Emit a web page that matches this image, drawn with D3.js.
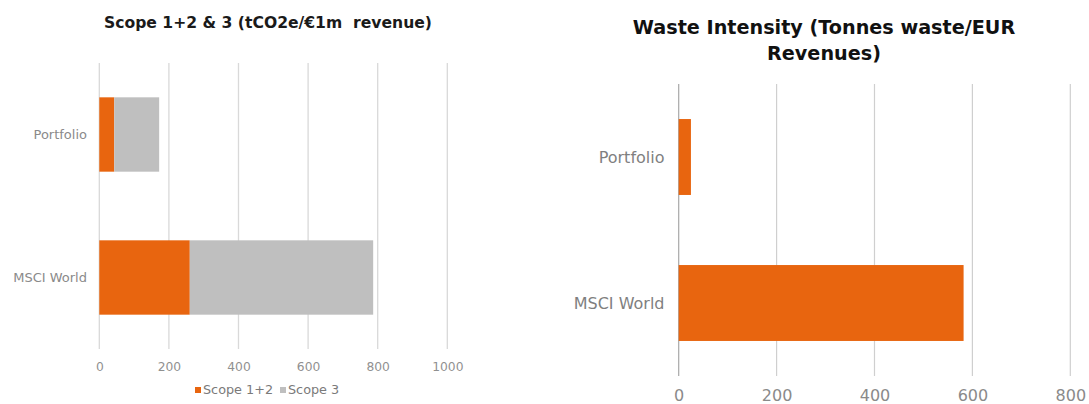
<!DOCTYPE html>
<html><head><meta charset="utf-8">
<script src="https://cdn.jsdelivr.net/npm/d3@7"></script>
<style>
html,body{margin:0;padding:0;background:#fff;}
svg{display:block;font-family:"DejaVu Sans",Verdana,sans-serif;}
</style></head>
<body><svg id="c" width="1089" height="404"></svg>
<script>
// ---- data ----
const categories = ["Portfolio", "MSCI World"];
const scope12 = [43, 260];          // Scope 1+2 (tCO2e/€1m revenue)
const scope3 = [129, 527];          // Scope 3 (stacked on top of 1+2)
const waste = [25, 582];            // Waste intensity
const leftTicks = [0, 200, 400, 600, 800, 1000];
const rightTicks = [0, 200, 400, 600, 800];
const seriesNames = ["Scope 1+2", "Scope 3"];
const leftTitle = "Scope 1+2 & 3 (tCO2e/€1m\u00a0\u00a0revenue)";
const rightTitle = ["Waste Intensity (Tonnes waste/EUR", "Revenues)"];

const ORANGE = "#e8650f", GREY = "#bfbfbf";
const svg = d3.select("#c");

// ---------- left chart ----------
const L = svg.append("g");
const xL = d3.scaleLinear().domain([0, 1000]).range([99.3, 447.3]);
const yL = d3.scaleBand().domain(categories).range([63, 349]).paddingInner(0.48).paddingOuter(0.24);

L.append("g").selectAll("line").data(leftTicks).join("line")
  .attr("x1", d => xL(d)).attr("x2", d => xL(d))
  .attr("y1", 63).attr("y2", 349)
  .attr("stroke", "#d9d9d9").attr("stroke-width", 1.3);

const stack = categories.map((c, i) => ({c, a: scope12[i], b: scope3[i]}));
L.append("g").selectAll("rect").data(stack).join("rect")
  .attr("x", d => xL(0)).attr("y", d => yL(d.c))
  .attr("width", d => xL(d.a) - xL(0)).attr("height", yL.bandwidth())
  .attr("fill", ORANGE);
L.append("g").selectAll("rect").data(stack).join("rect")
  .attr("x", d => xL(d.a)).attr("y", d => yL(d.c))
  .attr("width", d => xL(d.a + d.b) - xL(d.a)).attr("height", yL.bandwidth())
  .attr("fill", GREY);

const axL = L.append("g").attr("transform", "translate(0,362)")
  .call(d3.axisBottom(xL).tickValues(leftTicks).tickSize(0).tickPadding(0).tickFormat(d3.format("d")));
axL.select(".domain").remove();
axL.selectAll("text").attr("font-size", 12.3).attr("fill", "#909090").attr("font-family", "DejaVu Sans").attr("dy", "0.71em");

const cyL = L.append("g");
categories.forEach(c => {
  cyL.append("text").attr("x", 87).attr("y", yL(c) + yL.bandwidth() / 2)
    .attr("dy", "0.35em").attr("text-anchor", "end")
    .attr("font-size", 13).attr("fill", "#8a8a8a").text(c);
});

L.append("text").attr("x", 268).attr("y", 28).attr("text-anchor", "middle")
  .attr("font-size", 15.6).attr("font-weight", "bold").attr("fill", "#1a1a1a").text(leftTitle);

// legend
const lg = L.append("g");
const legX = [195, 280];
seriesNames.forEach((n, i) => {
  lg.append("rect").attr("x", legX[i]).attr("y", 387).attr("width", 6).attr("height", 6)
    .attr("fill", i === 0 ? ORANGE : GREY);
  lg.append("text").attr("x", legX[i] + 8).attr("y", 390).attr("dy", "0.35em")
    .attr("font-size", 12.8).attr("fill", "#7a7a7a").text(n);
});

// ---------- right chart ----------
const R = svg.append("g");
const xR = d3.scaleLinear().domain([0, 800]).range([678.7, 1070.3]);
const yR = d3.scaleBand().domain(categories).range([84, 376]).paddingInner(0.48).paddingOuter(0.24);

R.append("g").selectAll("line").data(rightTicks).join("line")
  .attr("x1", d => xR(d)).attr("x2", d => xR(d))
  .attr("y1", 84).attr("y2", 376)
  .attr("stroke", d => d === 0 ? "#a8a8a8" : "#cfcfcf").attr("stroke-width", 1.2);

R.append("g").selectAll("rect").data(categories).join("rect")
  .attr("x", xR(0)).attr("y", d => yR(d))
  .attr("width", (d, i) => xR(waste[i]) - xR(0)).attr("height", yR.bandwidth())
  .attr("fill", ORANGE);

const axR = R.append("g").attr("transform", "translate(0,390)")
  .call(d3.axisBottom(xR).tickValues(rightTicks).tickSize(0).tickPadding(0).tickFormat(d3.format("d")));
axR.select(".domain").remove();
axR.selectAll("text").attr("font-size", 16).attr("fill", "#8a8a8a").attr("font-family", "DejaVu Sans").attr("dy", "0.71em");

categories.forEach(c => {
  R.append("text").attr("x", 664.5).attr("y", yR(c) + yR.bandwidth() / 2)
    .attr("dy", "0.35em").attr("text-anchor", "end")
    .attr("font-size", 16).attr("fill", "#7f7f7f").text(c);
});

rightTitle.forEach((t, i) => {
  R.append("text").attr("x", 824).attr("y", 34 + i * 26).attr("text-anchor", "middle")
    .attr("font-size", 19.2).attr("font-weight", "bold").attr("fill", "#111").text(t);
});
</script>
</body></html>
